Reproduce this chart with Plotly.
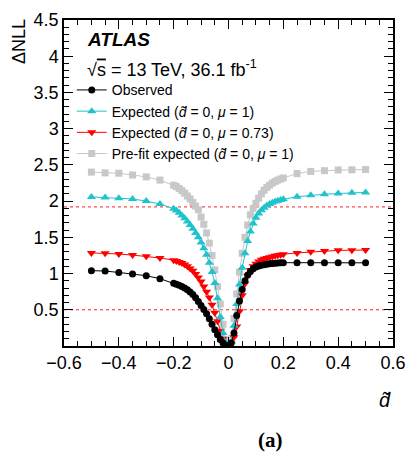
import plotly.graph_objects as go

# Scan points in d-tilde: coarse outer points, fine 0.01 steps in the core
d_outer_left = [-0.50, -0.45, -0.40, -0.35, -0.30, -0.25]
d_core = [round(-0.20 + 0.01 * i, 2) for i in range(41)]
d_outer_right = [0.25, 0.30, 0.35, 0.40, 0.45, 0.50]
d_tilde = d_outer_left + d_core + d_outer_right

# Delta NLL values along the scan
nll_observed = [
    1.040, 1.035, 1.015, 0.995, 0.970, 0.930,
    0.865, 0.852, 0.838, 0.822, 0.800, 0.775, 0.745, 0.710, 0.665, 0.615,
    0.560, 0.505, 0.445, 0.375, 0.300, 0.225, 0.155, 0.090, 0.040, 0.008,
    0.002,
    0.040, 0.180, 0.420, 0.620, 0.780, 0.900, 0.980, 1.030, 1.065, 1.090,
    1.105, 1.115, 1.123, 1.130, 1.135, 1.140, 1.143, 1.146, 1.148, 1.150,
    1.150, 1.150, 1.150, 1.150, 1.150, 1.148,
]
nll_expected_mu1 = [
    2.057, 2.050, 2.040, 2.030, 2.000, 1.960,
    1.895, 1.870, 1.840, 1.800, 1.765, 1.720, 1.670, 1.620, 1.560, 1.500,
    1.430, 1.350, 1.260, 1.150, 1.020, 0.870, 0.660, 0.400, 0.180, 0.050,
    0.000,
    0.060, 0.280, 0.580, 0.850, 1.080, 1.280, 1.450, 1.580, 1.690, 1.770,
    1.830, 1.875, 1.910, 1.940, 1.960, 1.978, 1.993, 2.005, 2.015, 2.025,
    2.060, 2.080, 2.095, 2.105, 2.115, 2.120,
]
nll_expected_mu073 = [
    1.285, 1.280, 1.270, 1.255, 1.240, 1.215,
    1.185, 1.175, 1.160, 1.145, 1.125, 1.100, 1.070, 1.040, 0.995, 0.945,
    0.890, 0.820, 0.750, 0.670, 0.570, 0.460, 0.340, 0.210, 0.100, 0.030,
    0.000,
    0.030, 0.120, 0.270, 0.480, 0.700, 0.860, 0.970, 1.050, 1.100, 1.135,
    1.165, 1.190, 1.205, 1.215, 1.225, 1.235, 1.245, 1.252, 1.260, 1.267,
    1.285, 1.300, 1.313, 1.320, 1.322, 1.325,
]
nll_prefit = [
    2.400, 2.390, 2.385, 2.360, 2.335, 2.290,
    2.220, 2.200, 2.175, 2.145, 2.110, 2.070, 2.030, 1.980, 1.930, 1.880,
    1.780, 1.680, 1.560, 1.420, 1.250, 1.050, 0.820, 0.580, 0.300, 0.080,
    0.000,
    0.100, 0.380, 0.720, 1.020, 1.280, 1.500, 1.670, 1.810, 1.900, 1.970,
    2.040, 2.100, 2.150, 2.190, 2.220, 2.250, 2.270, 2.290, 2.305, 2.320,
    2.380, 2.410, 2.420, 2.430, 2.432, 2.436,
]

# 68% and 95% CL reference levels
cl_levels = [0.5, 1.92]

FONT = "Liberation Sans, Arial, Helvetica, sans-serif"
DT = "<i>d\u0303</i>"

series = [
    ("Observed", nll_observed, "black", "circle", 7, "#000000"),
    (f"Expected ({DT} = 0, <i>\u03bc</i> = 1)", nll_expected_mu1, "#1ec3cb", "triangle-up", 8, "#1ec3cb"),
    (f"Expected ({DT} = 0, <i>\u03bc</i> = 0.73)", nll_expected_mu073, "#ff0000", "triangle-down", 8, "#ff0000"),
    (f"Pre-fit expected ({DT} = 0, <i>\u03bc</i> = 1)", nll_prefit, "#c8c8c8", "square", 7, "#c8c8c8"),
]

fig = go.Figure()

for level in cl_levels:
    fig.add_shape(type="line", xref="paper", yref="y", x0=0, x1=1, y0=level, y1=level,
                  line=dict(color="#ff2020", width=1, dash="dot"), layer="below")

# Draw pre-fit first so observed sits on top
for name, vals, col, sym, size, lcol in reversed(series):
    fig.add_trace(go.Scatter(
        x=d_tilde, y=vals, name=name, mode="lines+markers",
        line=dict(color=lcol, width=1),
        marker=dict(symbol=sym, size=size, color=col, line=dict(width=0)),
    ))

axis_common = dict(
    showline=True, linecolor="black", linewidth=1.5, mirror="allticks",
    ticks="inside", tickcolor="black", tickwidth=1, showgrid=False, zeroline=False,
    tickfont=dict(family=FONT, size=18, color="black"), ticklabeloverflow="allow",
)

fig.update_xaxes(
    range=[-0.6, 0.6], tickvals=[-0.6, -0.4, -0.2, 0, 0.2, 0.4, 0.6],
    ticklen=9, minor=dict(dtick=0.05, ticklen=5, ticks="inside", tickcolor="black"),
    **axis_common,
)
fig.update_yaxes(
    range=[0, 4.5], tickvals=[0.5, 1, 1.5, 2, 2.5, 3, 3.5, 4, 4.5],
    ticktext=["0.5", "1", "1.5", "2", "2.5", "3", "3.5", "4", "4.5"],
    ticklen=9, minor=dict(dtick=0.1, ticklen=5, ticks="inside", tickcolor="black"),
    **axis_common,
)

L, R, T, B = 64, 13, 10, 113
W, H = 416, 459
pw, ph = W - L - R, H - T - B

def px_x(p):
    return (p - L) / pw

def px_y(p):
    return (H - B - p) / ph

annotations = [
    dict(text="<b><i>ATLAS</i></b>", x=px_x(86), y=px_y(30), xanchor="left", yanchor="middle",
         font=dict(family=FONT, size=19, color="black")),
    dict(text="\u221a<span style='text-decoration:overline'>s</span> = 13 TeV, 36.1 fb<sup>-1</sup>",
         x=px_x(86), y=px_y(60), xanchor="left", yanchor="middle",
         font=dict(family=FONT, size=18, color="black")),
    dict(text="\u0394NLL", textangle=-90, x=px_x(17), y=px_y(7), xanchor="center", yanchor="top",
         font=dict(family=FONT, size=18, color="black")),
    dict(text=DT, x=px_x(403), y=px_y(388), xanchor="right", yanchor="top",
         font=dict(family=FONT, size=20, color="black")),
    dict(text="<b>(a)</b>", x=px_x(277), y=px_y(443), xanchor="center", yanchor="middle",
         font=dict(family="Liberation Serif, Times New Roman, serif", size=21, color="black")),
]
for a in annotations:
    a.update(xref="paper", yref="paper", showarrow=False)

fig.update_layout(
    width=W, height=H,
    margin=dict(l=L, r=R, t=T, b=B),
    paper_bgcolor="white", plot_bgcolor="white",
    font=dict(family=FONT, color="black"),
    annotations=annotations,
    legend=dict(
        x=px_x(72), y=px_y(66), xanchor="left", yanchor="top",
        bgcolor="rgba(0,0,0,0)", borderwidth=0,
        font=dict(family=FONT, size=14, color="black"),
        traceorder="reversed", itemwidth=30, tracegroupgap=0,
    ),
)

fig.write_html("out.html")
